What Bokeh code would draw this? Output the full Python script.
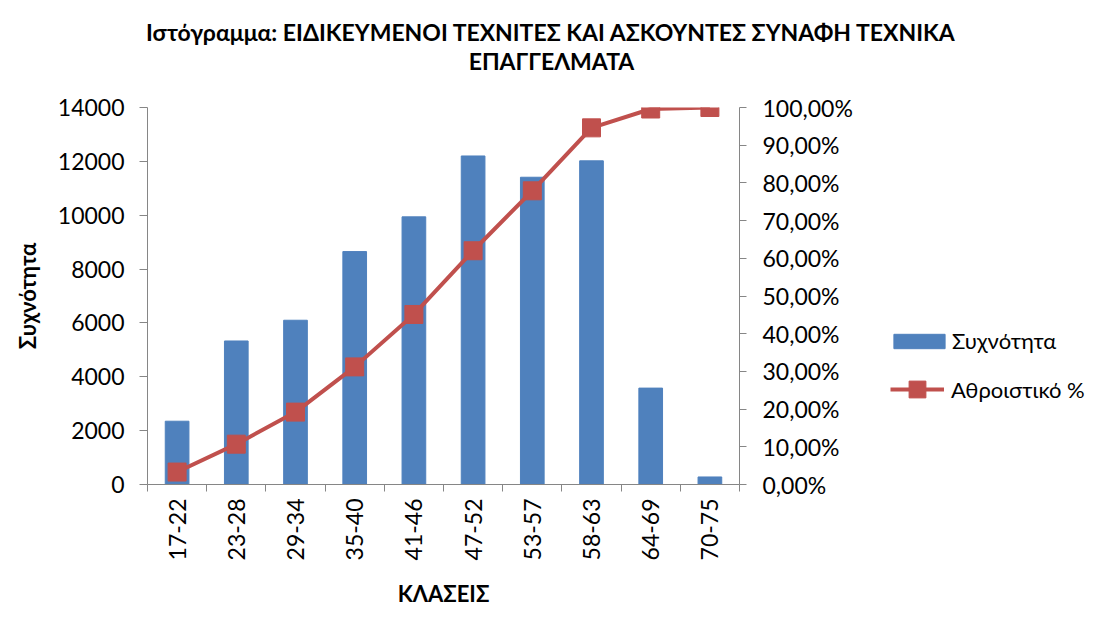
import numpy as np
from bokeh.plotting import figure
from bokeh.layouts import row, column
from bokeh.models import (Range1d, LinearAxis, FixedTicker, CustomJSTickFormatter,
                          Legend, LegendItem, Label)
from bokeh.embed import file_html
from bokeh.resources import INLINE

# ---- data ----
classes = ["17-22", "23-28", "29-34", "35-40", "41-46", "47-52", "53-57", "58-63", "64-69", "70-75"]
freq = [2350, 5330, 6100, 8650, 9940, 12200, 11410, 12020, 3580, 280]
cum_pct = [3.3, 10.7, 19.2, 31.2, 45.1, 62.0, 77.9, 94.6, 99.6, 100.0]
y_ticks = [0, 2000, 4000, 6000, 8000, 10000, 12000, 14000]
pct_ticks = [0, 10, 20, 30, 40, 50, 60, 70, 80, 90, 100]

title1 = "Ιστόγραμμα: ΕΙΔΙΚΕΥΜΕΝΟΙ ΤΕΧΝΙΤΕΣ ΚΑΙ ΑΣΚΟΥΝΤΕΣ ΣΥΝΑΦΗ ΤΕΧΝΙΚΑ"
title2 = "ΕΠΑΓΓΕΛΜΑΤΑ"
x_label = "ΚΛΑΣΕΙΣ"
y_label = "Συχνότητα"
series_bar = "Συχνότητα"
series_line = "Αθροιστικό %"

FONT = "Lato"
BAR = "#4F81BD"
RED = "#C0504D"
AX = "#868686"
TXT = "#000000"

W, H = 1093, 610
TOP_H = 78
MAIN_W = 880

n = len(classes)
xs = np.arange(n) + 0.5
bounds = list(range(n + 1))


def bare(fig):
    fig.title = None
    fig.grid.visible = False
    fig.outline_line_color = None
    fig.background_fill_color = "white"
    fig.border_fill_color = "white"


# ---- title strip ----
tfig = figure(width=W, height=TOP_H, output_backend="svg", toolbar_location=None,
              x_range=Range1d(0, W), y_range=Range1d(0, TOP_H),
              x_axis_type=None, y_axis_type=None, min_border=0)
bare(tfig)
for txt, yy in ((title1, TOP_H - 31), (title2, TOP_H - 60)):
    tfig.add_layout(Label(x=551, y=yy, x_units="screen", y_units="screen", text=txt,
                          text_align="center", text_baseline="middle", text_font=FONT,
                          text_font_size="23px", text_font_style="bold", text_color=TXT))

# ---- main chart ----
p = figure(width=MAIN_W, height=H - TOP_H, output_backend="svg", toolbar_location=None,
           x_range=Range1d(0, n), y_range=Range1d(y_ticks[0], y_ticks[-1]),
           x_axis_type=None, y_axis_type=None,
           min_border_left=147, min_border_right=MAIN_W - 739,
           min_border_top=107 - TOP_H, min_border_bottom=H - 485)
bare(p)
p.extra_y_ranges = {"pct": Range1d(pct_ticks[0], pct_ticks[-1])}

bars = p.vbar(x=xs, top=freq, width=0.4, fill_color=BAR, line_color=BAR)
line = p.line(x=xs, y=cum_pct, y_range_name="pct", line_color=RED, line_width=4)
marks = p.scatter(x=xs, y=cum_pct, y_range_name="pct", marker="square", size=18,
                  fill_color=RED, line_color=RED)


def style(ax):
    ax.axis_line_color = AX
    ax.major_tick_line_color = AX
    ax.minor_tick_line_color = None
    ax.major_label_text_font = FONT
    ax.major_label_text_font_size = "23px"
    ax.major_label_text_color = TXT
    ax.axis_label_text_font = FONT
    ax.axis_label_text_font_size = "22px"
    ax.axis_label_text_font_style = "bold"
    ax.axis_label_text_color = TXT


xa = LinearAxis(ticker=FixedTicker(ticks=list(xs), minor_ticks=bounds),
                formatter=CustomJSTickFormatter(args=dict(labels=classes),
                                                code="return labels[Math.floor(tick)];"),
                axis_label=x_label)
style(xa)
xa.major_tick_line_color = None
xa.major_tick_out = 0
xa.major_tick_in = 0
xa.minor_tick_line_color = AX
xa.minor_tick_out = 7
xa.minor_tick_in = 0
xa.major_label_orientation = np.pi / 2
xa.major_label_standoff = 7
xa.axis_label_standoff = 17
p.add_layout(xa, "below")

ya = LinearAxis(ticker=FixedTicker(ticks=y_ticks), axis_label=y_label)
style(ya)
ya.major_tick_out = 8
ya.major_tick_in = 0
ya.major_label_standoff = 15
ya.axis_label_standoff = 14
p.add_layout(ya, "left")

ra = LinearAxis(y_range_name="pct", ticker=FixedTicker(ticks=pct_ticks),
                formatter=CustomJSTickFormatter(code="return tick.toFixed(2).replace('.', ',') + '%';"))
style(ra)
ra.major_tick_out = 7
ra.major_tick_in = 0
ra.major_label_standoff = 16
p.add_layout(ra, "right")

# ---- legend panel (separate figure so the legend is not clipped) ----
q = figure(width=W - MAIN_W, height=H - TOP_H, output_backend="svg", toolbar_location=None,
           x_range=Range1d(-21, -20), y_range=Range1d(20000, 21000),
           x_axis_type=None, y_axis_type=None,
           min_border_left=0, min_border_right=0,
           min_border_top=107 - TOP_H, min_border_bottom=H - 485)
bare(q)
lb = q.vbar(x=xs, top=freq, width=0.4, fill_color=BAR, line_color=BAR)
ll = q.line(x=xs, y=cum_pct, line_color=RED, line_width=4)
lm = q.scatter(x=xs, y=cum_pct, marker="square", size=18, fill_color=RED, line_color=RED)


def leg(items, loc, gw, gh, standoff):
    return Legend(items=items, location=loc, glyph_width=gw, glyph_height=gh,
                  label_standoff=standoff, label_text_font=FONT, label_text_font_size="22px",
                  label_text_color=TXT, padding=0, margin=0, border_line_color=None,
                  background_fill_alpha=0)


legA = leg([LegendItem(label=series_bar, renderers=[lb])], (7, 130), 64, 18, 1)
legB = leg([LegendItem(label=series_line, renderers=[ll, lm])], (10, 74), 54, 42, 7)
q.add_layout(legA)
q.add_layout(legB)

layout = column(tfig, row(p, q))
open("out.html", "w").write(file_html(layout, INLINE))
